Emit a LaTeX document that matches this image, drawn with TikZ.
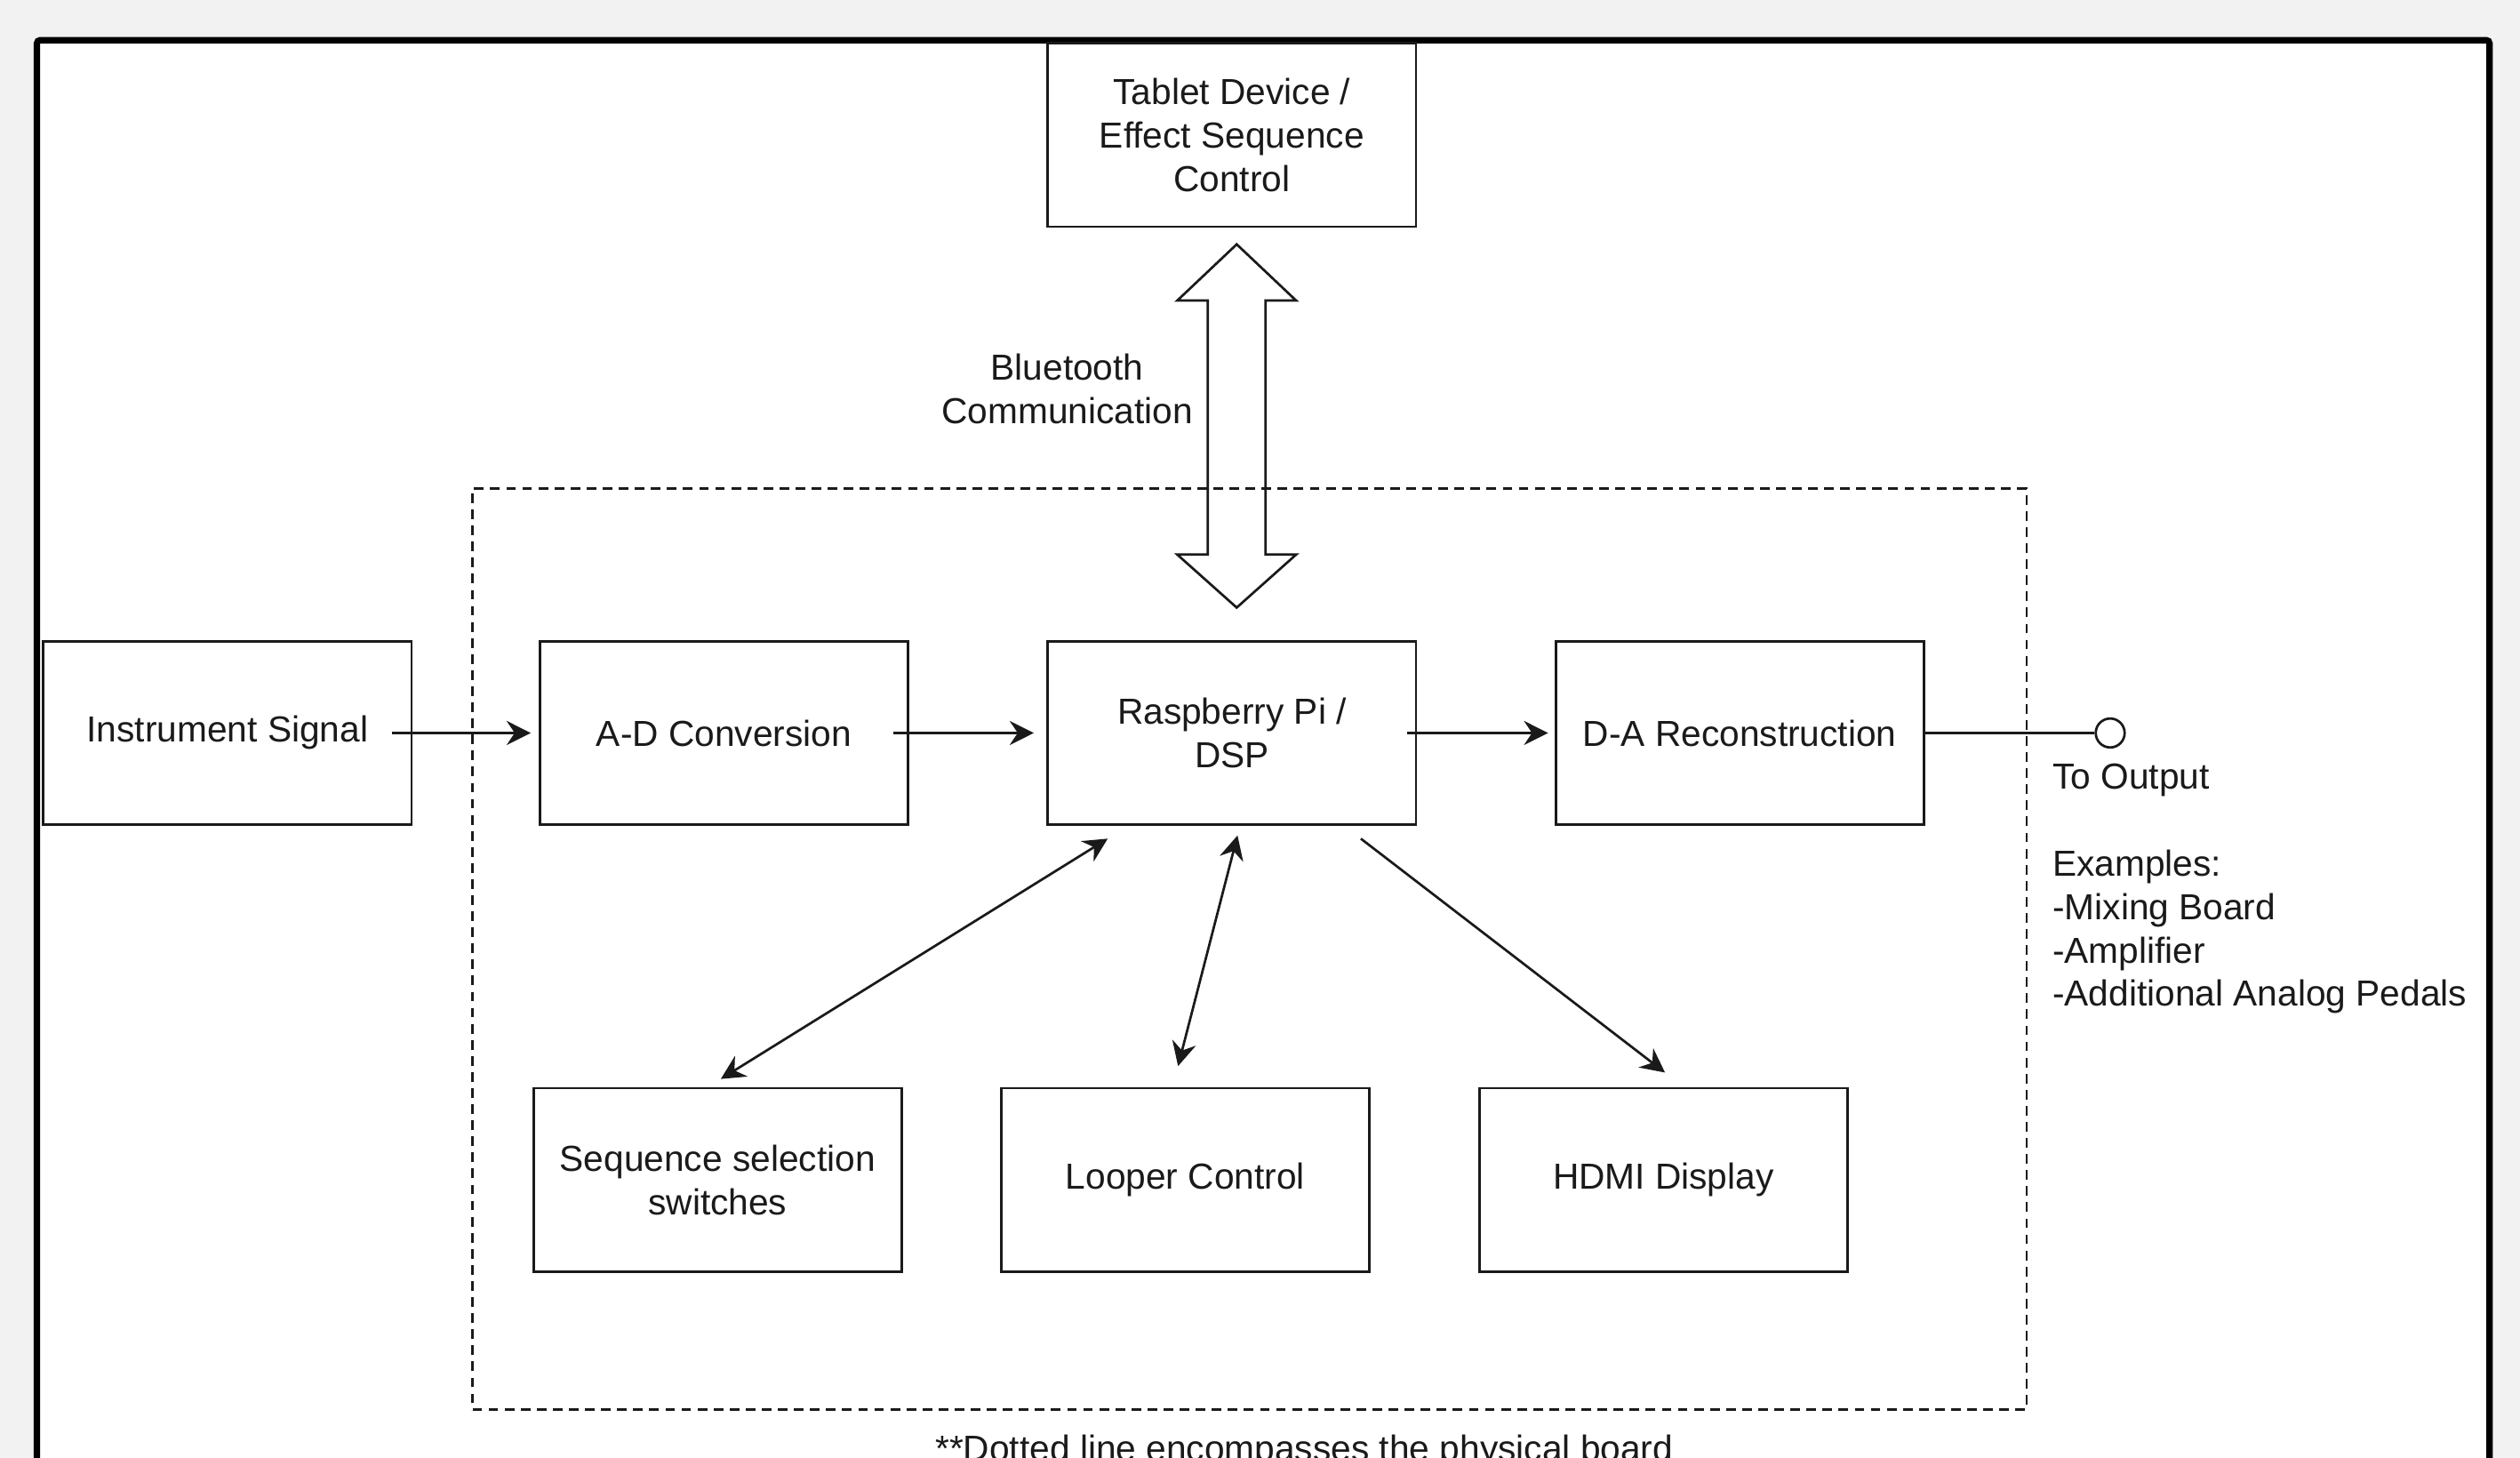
\documentclass[tikz,border=0pt]{standalone}
\usepackage{fontspec}
\setmainfont{Liberation Sans}
\usetikzlibrary{arrows.meta,calc}
\definecolor{bggray}{HTML}{F2F2F2}
\definecolor{ink}{HTML}{1A1A1A}
\begin{document}
\begin{tikzpicture}[x=1pt,y=-1pt,
  font=\fontsize{22.5}{27}\selectfont,
  box/.style={draw=ink, line width=1.5pt, minimum width=229pt, minimum height=114pt, align=center, text=ink, inner sep=0pt},
  lbl/.style={text=ink, inner sep=0pt},
  conn/.style={draw=ink, line width=1.5pt},
  tip/.tip={Stealth[length=15pt,width=15pt,inset=5pt]},
  arr/.style={conn, -tip},
  darr/.style={conn, tip-tip},
]
\useasboundingbox (0,0) rectangle (1568,907);
\fill[bggray] (0,0) rectangle (1568,907);
\draw[line width=4pt, fill=white, rounded corners=2pt] (23,25) rectangle (1549,1000);

% physical board (dashed)
\node[draw=ink, line width=1.3pt, dash pattern=on 6pt off 4pt, minimum width=967pt, minimum height=573pt, inner sep=0pt] (board) at (777.5,590.5) {};

% boxes
\node[box] (tablet) at (766.5,84) {Tablet Device /\\Effect Sequence\\Control};
\node[box] (inst) at (141.5,456) {Instrument Signal};
\node[box] (ad) at (450.5,456) {A-D Conversion};
\node[box] (rpi) at (766.5,456) {Raspberry Pi /\\DSP};
\node[box] (da) at (1082.5,456) {D-A Reconstruction};
\node[box] (seq) at (446.5,734) {Sequence selection\\switches};
\node[box] (looper) at (737.5,734) {Looper Control};
\node[box] (hdmi) at (1035,734) {HDMI Display};

% output terminal
\node[circle, draw=ink, line width=1.5pt, minimum size=18pt, inner sep=0pt, fill=white] (out) at (1313,456) {};
\draw[conn] (da) -- (out);

% labels
\node[lbl, align=center] (bt) at (664,242) {Bluetooth\\Communication};
\node[lbl, align=left, anchor=west] (outlbl) at (1277,553) {To Output\\[27pt]Examples:\\-Mixing Board\\-Amplifier\\-Additional Analog Pedals};
\node[lbl, anchor=base] (note) at (811.5,909) {**Dotted line encompasses the physical board};

% bluetooth block double arrow
\draw[draw=ink, line width=1.5pt, line join=miter]
  (769.5,152) -- (806.5,187) -- (787.5,187) -- (787.5,345) -- (806.5,345)
  -- (769.5,378) -- (732.5,345) -- (751.5,345) -- (751.5,187) -- (732.5,187) -- cycle;

% signal chain
\draw[arr, shorten <=-13pt, shorten >=5pt] (inst) -- (ad);
\draw[arr, shorten <=-10pt, shorten >=8pt] (ad) -- (rpi);
\draw[arr, shorten <=-6pt, shorten >=4pt] (rpi) -- (da);

% control connections
\draw[darr] ($(rpi.south west)+(38,8)$) -- ($(seq.north)+(2,-5)$);
\draw[darr] ($(rpi.south)+(3.5,6)$) -- ($(looper.north)+(-4.5,-13)$);
\draw[arr] ($(rpi.south east)+(-35,8)$) -- ($(hdmi.north)+(1,-9)$);
\end{tikzpicture}
\end{document}
